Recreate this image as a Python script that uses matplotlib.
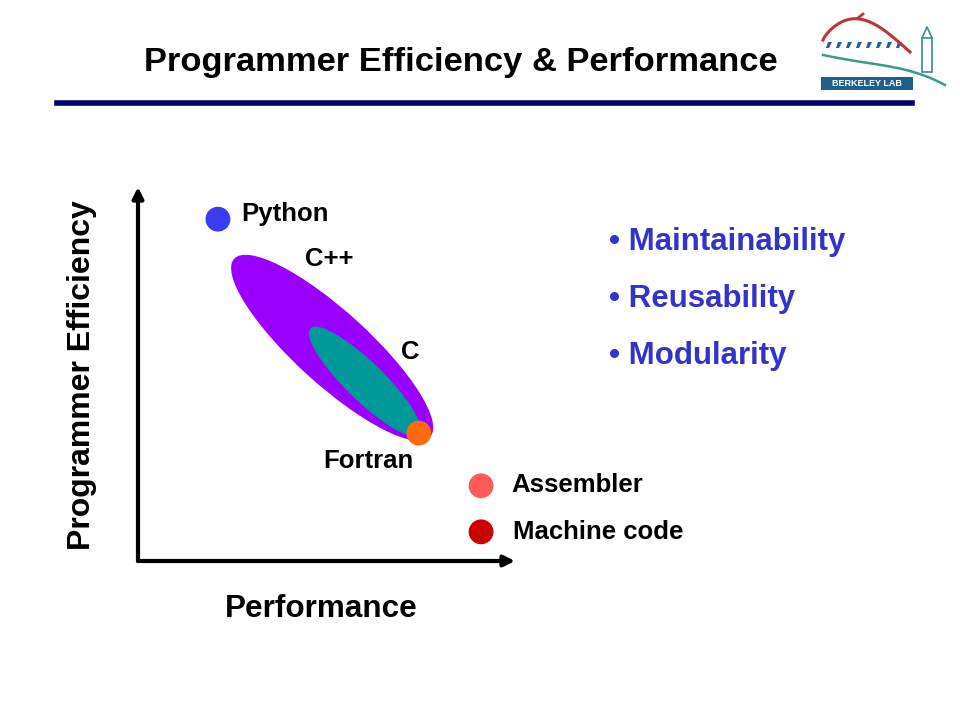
import numpy as np
import matplotlib.pyplot as plt
from matplotlib.patches import Ellipse, Rectangle, Polygon

plt.rcParams['font.family'] = ['Liberation Sans', 'DejaVu Sans']

# language positions on the (performance, efficiency) plane, 0..10
points = ['Python', 'Fortran', 'Assembler', 'Machine code']
perf = [2.12, 7.45, 9.10, 9.10]
eff = [9.14, 3.42, 2.01, 0.78]
point_colors = ['#3b3bf2', '#ff6a10', '#ff5a5a', '#cc0000']

# regions: name, centre perf, centre eff, length, width, angle
regions = ['C++', 'C']
reg_x = [5.15, 6.02]
reg_y = [5.70, 4.80]
reg_len = [7.05, 4.05]
reg_wid = [1.95, 1.02]
reg_ang = [-42.5, -44.5]
reg_colors = ['#9900ff', '#009999']

# label anchors (left edge, centre)
labels = ['Python', 'C++', 'C', 'Fortran', 'Assembler', 'Machine code']
lab_x = [2.73, 4.43, 6.98, 4.91, 9.90, 9.95]
lab_y = [9.28, 8.08, 5.59, 2.67, 2.04, 0.78]

bullets = ['Maintainability', 'Reusability', 'Modularity']

fig = plt.figure(figsize=(9.6, 7.2), dpi=100)
W, H = 960.0, 720.0

def fx(px):
    return px / W

def fy(py):
    return 1 - py / H

# title and rule
fig.text(fx(461), fy(62), 'Programmer Efficiency & Performance', ha='center', va='center',
         fontsize=24.8, fontweight='bold')
fig.add_artist(plt.Line2D([fx(57), fx(912)], [fy(103), fy(103)], color='#000066', lw=4))

# main axes
ax = fig.add_axes([fx(138), fy(561), (515 - 138) / W, (561 - 187) / H])
ax.set_xlim(0, 10)
ax.set_ylim(0, 10)
ax.axis('off')
ax.annotate('', xy=(1.0, 0), xytext=(0, 0), xycoords='axes fraction',
            arrowprops=dict(arrowstyle='-|>', lw=3, color='black', mutation_scale=16,
                            shrinkA=0, shrinkB=0), annotation_clip=False)
ax.annotate('', xy=(0, 1.0), xytext=(0, 0), xycoords='axes fraction',
            arrowprops=dict(arrowstyle='-|>', lw=3, color='black', mutation_scale=16,
                            shrinkA=0, shrinkB=0), annotation_clip=False)

for i in range(len(regions)):
    ax.add_patch(Ellipse((reg_x[i], reg_y[i]), reg_len[i], reg_wid[i], angle=reg_ang[i],
                         color=reg_colors[i], lw=0, zorder=2 + i))

ax.scatter(perf, eff, s=320, c=point_colors, zorder=5, clip_on=False, linewidths=0)

for name, x, y in zip(labels, lab_x, lab_y):
    ax.text(x, y, name, fontsize=18.5, fontweight='bold', va='center', ha='left')

# axis titles
fig.text(fx(82), fy(375), 'Programmer Efficiency', rotation=90, ha='center', va='center',
         fontsize=23, fontweight='bold')
fig.text(fx(321), fy(609), 'Performance', ha='center', va='center',
         fontsize=22.7, fontweight='bold')

# bullets
for i, b in enumerate(bullets):
    fig.text(fx(609), fy(242 + 57 * i), '\u2022 ' + b, ha='left', va='center',
             fontsize=22.5, fontweight='bold', color='#3333cc')

# logo
lg = fig.add_axes([fx(815), fy(95), 135 / W, 85 / H])
lg.set_xlim(815, 950)
lg.set_ylim(95, 10)
lg.axis('off')
t = np.linspace(0, 1, 60)
lg.plot(823 + 87 * t, 40 - 26 * np.sin(np.pi * t ** 0.8) + 12 * t, color='#c0333a', lw=2.2)
lg.plot([858, 863], [18, 14], color='#c0333a', lw=2)
lg.plot(823 + 122 * t, 55 + 8 * np.sin(np.pi * t) * (1 - t) + 30 * t ** 2.2, color='#3a9a8a', lw=1.8)
for k in range(8):
    x0 = 826 + k * 10
    lg.add_patch(Polygon([[x0, 48], [x0 + 2, 42], [x0 + 6, 42], [x0 + 3, 48]],
                         color='#1f5f9a', lw=0))
lg.add_patch(Rectangle((922, 38), 10, 34, fill=False, ec='#3a8a9a', lw=1.2))
lg.plot([922, 927, 932], [38, 27, 38], color='#3a8a9a', lw=1.2)
lg.add_patch(Rectangle((821, 77), 92, 13, color='#1f5f8a', lw=0))
lg.text(867, 83.5, 'BERKELEY LAB', color='white', fontsize=6.5, fontweight='bold',
        ha='center', va='center')

fig.savefig('out.png', dpi=100)
